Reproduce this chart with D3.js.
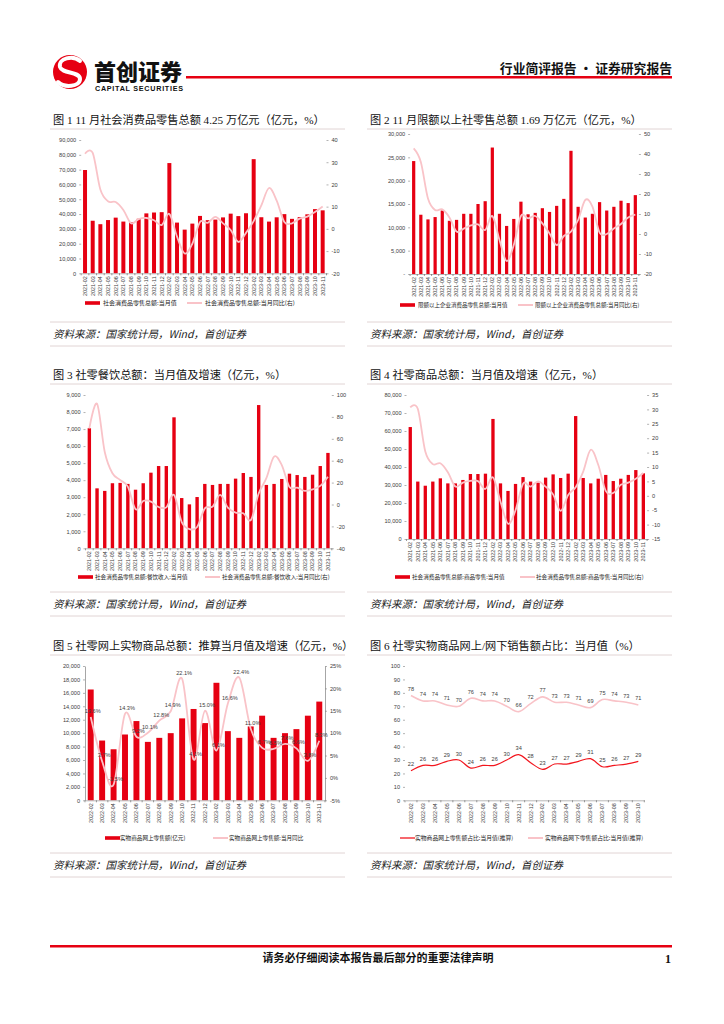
<!DOCTYPE html>
<html><head><meta charset="utf-8">
<script src="https://cdn.jsdelivr.net/npm/d3@7/dist/d3.min.js"></script>
<style>body{margin:0;background:#fff}svg{display:block}</style>
</head><body>
<svg id="page" width="724" height="1024"></svg>
<script>
// ---------------- DATA ----------------
const months32 = ["2021-02","2021-03","2021-04","2021-05","2021-06","2021-07","2021-08","2021-09","2021-10","2021-11","2021-12",
 "2022-02","2022-03","2022-04","2022-05","2022-06","2022-07","2022-08","2022-09","2022-10","2022-11","2022-12",
 "2023-02","2023-03","2023-04","2023-05","2023-06","2023-07","2023-08","2023-09","2023-10","2023-11"];
const months21 = ["2022-02","2022-03","2022-04","2022-05","2022-06","2022-07","2022-08","2022-09","2022-10","2022-11","2022-12",
 "2023-02","2023-03","2023-04","2023-05","2023-06","2023-07","2023-08","2023-09","2023-10","2023-11"];
const months20 = ["2022-02","2022-03","2022-04","2022-05","2022-06","2022-07","2022-08","2022-09","2022-10","2022-11","2022-12",
 "2023-02","2023-03","2023-04","2023-05","2023-06","2023-07","2023-08","2023-09","2023-10"];

// Fig 1: total retail sales (100m yuan) and yoy %
const retailTotal = [69737,35484,33153,35945,37586,34925,34395,36833,40454,41043,41269,
 74426,34233,29483,33547,38742,35870,36258,37745,40271,38615,40542,
 77067,37855,34910,37803,39951,36761,37933,39826,43333,42505];
const retailTotalYoY = [33.8,34.2,17.7,12.4,12.1,8.5,2.5,4.4,4.9,3.9,1.7,
 6.7,-3.5,-11.1,-6.7,3.1,2.7,5.4,2.5,-0.5,-5.9,-1.8,
 3.5,10.6,18.4,12.7,3.1,2.5,4.6,5.5,7.6,10.1];

// Fig 2: above designated size
const retailAbove = [24200,12700,11700,12200,13600,11400,11600,12900,12900,15000,15600,
 27100,12900,10300,11800,15500,12800,13100,14100,13300,14600,16100,
 26400,14400,12100,12900,15400,13600,14400,15700,15200,16900];
const retailAboveYoY = [42.8,36.0,17.8,12.0,12.3,8.3,1.2,2.7,4.3,4.8,2.0,
 9.0,-3.0,-13.5,-5.5,9.0,7.8,9.0,5.3,0.3,-5.5,-1.0,
 1.2,7.0,17.0,13.7,0.7,0.0,2.8,5.0,8.3,9.7];

// Fig 3: catering
const catering = [7050,3520,3370,3820,3840,3780,3440,3820,4440,4830,4830,
 7690,2950,2580,3010,3780,3720,3780,3780,4090,4420,4190,
 8410,3720,3780,4070,4380,4300,4190,4320,4830,5600];
const cateringYoY = [69.6,92.0,48.0,28.5,22.4,16.3,-4.3,3.2,2.6,-2.3,-2.6,
 8.7,-16.0,-22.4,-20.5,-3.5,-2.0,8.7,-2.9,-7.5,-8.0,-14.0,
 10.0,24.0,43.7,36.0,16.0,15.4,12.4,13.8,17.0,25.4];

// Fig 4: goods retail
const goods = [62200,31900,29600,31900,33700,30900,30900,32800,36100,36100,36300,
 66700,30900,26700,30600,34400,31900,31300,34100,35900,33900,36300,
 68300,33900,30900,33500,35600,32200,33500,35600,38300,36500];
const goodsYoY = [30.7,30.2,15.4,11.0,11.3,8.2,3.2,4.6,5.2,5.1,2.4,
 6.4,-2.0,-9.7,-5.0,4.2,3.2,5.0,3.2,0.5,-5.2,0.3,
 3.0,8.4,16.0,10.8,1.7,1.0,3.8,4.6,5.9,7.9];

// Fig 5: online physical goods (estimated monthly)
const online = [16500,8900,7600,9800,11800,8700,9300,10000,12200,13600,11500,
 17500,10300,9300,11000,12600,9300,10000,10600,12600,14700];
const onlineYoY = [13.6,3.7,-1.5,14.3,9.2,10.1,12.8,14.9,22.1,4.1,15.0,
 6.1,16.6,22.4,11.0,6.7,6.5,7.6,6.6,3.8,8.3];

// Fig 6: online / offline share
const shareOnline = [22,26,26,29,30,24,26,26,30,34,28,23,27,27,29,31,25,26,27,29];
const shareOffline = [78,74,74,71,70,76,74,74,70,66,72,77,73,73,71,69,75,74,73,71];

// tick values
const ticks1L = [0,10000,20000,30000,40000,50000,60000,70000,80000,90000];
const ticks1R = [-20,-10,0,10,20,30,40];
const ticks2L = [0,5000,10000,15000,20000,25000,30000];
const ticks2R = [-20,-10,0,10,20,30,40,50];
const ticks3L = [0,1000,2000,3000,4000,5000,6000,7000,8000,9000];
const ticks3R = [-40,-20,0,20,40,60,80,100];
const ticks4L = [0,10000,20000,30000,40000,50000,60000,70000,80000];
const ticks4R = [-15,-10,-5,0,5,10,15,20,25,30,35];
const ticks5L = [0,2000,4000,6000,8000,10000,12000,14000,16000,18000,20000];
const ticks5R = [-5,0,5,10,15,20,25];
const ticks6L = [0,10,20,30,40,50,60,70,80,90,100];

// ---------------- DRAW ----------------
const RED = "#e60012", PINK = "#f9c3c8", LINE_RED = "#f2161e";
const FA = "'Liberation Sans',Arial,'Noto Sans CJK SC',sans-serif";
const FT = "'Liberation Serif','Noto Sans CJK SC',serif";
const FC = "'Noto Sans CJK SC',sans-serif";
const svg = d3.select("#page");
const comma = d3.format(",");

// header
const hdr = svg.append("g");
hdr.append("circle").attr("cx",70).attr("cy",72).attr("r",17).attr("fill",RED);
hdr.append("path").attr("d","M80,61 C73,55 58,58 60,67 C62,74 80,71 80,79 C80,87 64,88 58,82")
  .attr("fill","none").attr("stroke","#fff").attr("stroke-width",4).attr("stroke-linecap","round");
hdr.append("text").attr("x",94).attr("y",80).attr("font-family",FC).attr("font-weight",900)
  .attr("font-size",22).attr("fill","#111").text("首创证券");
hdr.append("text").attr("x",95).attr("y",91).attr("font-family",FA).attr("font-weight",700)
  .attr("font-size",7.2).attr("fill","#111").attr("textLength",88).text("CAPITAL SECURITIES");
hdr.append("rect").attr("x",186).attr("y",76).attr("width",486).attr("height",2.5).attr("fill",RED);
hdr.append("text").attr("x",672).attr("y",73).attr("text-anchor","end").attr("font-family",FC)
  .attr("font-weight",700).attr("font-size",12.8).attr("fill","#111").text("行业简评报告 · 证券研究报告");

// footer
svg.append("rect").attr("x",50).attr("y",945).attr("width",622).attr("height",2.5).attr("fill",RED);
svg.append("text").attr("x",378).attr("y",962).attr("text-anchor","middle").attr("font-family",FC)
  .attr("font-weight",700).attr("font-size",11).attr("fill","#111").text("请务必仔细阅读本报告最后部分的重要法律声明");
svg.append("text").attr("x",671).attr("y",963).attr("text-anchor","end").attr("font-family",FT)
  .attr("font-weight",700).attr("font-size",12).attr("fill","#111").text("1");

// titles & sources
const titles = [
 {x:53,y:124,t:"图 1 11 月社会消费品零售总额 4.25 万亿元（亿元，%）"},
 {x:370,y:124,t:"图 2 11 月限额以上社零售总额 1.69 万亿元（亿元，%）"},
 {x:53,y:379,t:"图 3 社零餐饮总额：当月值及增速（亿元，%）"},
 {x:370,y:379,t:"图 4 社零商品总额：当月值及增速（亿元，%）"},
 {x:53,y:650,t:"图 5 社零网上实物商品总额：推算当月值及增速（亿元，%）"},
 {x:370,y:650,t:"图 6 社零实物商品网上/网下销售额占比：当月值（%）"}];
titles.forEach(d=>{
  svg.append("text").attr("x",d.x).attr("y",d.y).attr("font-family",FT).attr("font-size",11.2)
    .attr("fill","#111").text(d.t);
});
[[129,322,338,346],[384,592,608,616],[655,853,869,877]].forEach(r=>{
  [[50,345,53],[367,672,370]].forEach(c=>{
    [r[0],r[1],r[3]].forEach(yy=>{
      svg.append("line").attr("x1",c[0]).attr("x2",c[1]).attr("y1",yy).attr("y2",yy).attr("stroke","#d9c9c9").attr("stroke-width",0.8);
    });
    svg.append("text").attr("x",c[2]).attr("y",r[2]).attr("font-family",FC).attr("font-style","italic")
      .attr("font-size",10.5).attr("fill","#222").text("资料来源：国家统计局，Wind，首创证券");
  });
});

function styleAxis(a, showDomain){
  a.select(".domain").attr("stroke", showDomain ? "#a6a6a6" : "none");
  a.selectAll(".tick line").attr("stroke","#7f7f7f").attr("stroke-width",0.6);
  a.selectAll("text").attr("font-family",FA).attr("font-size",5.6).attr("fill","#404040");
}

function chart(c){
  const g = svg.append("g");
  const x = d3.scaleBand().domain(c.labels).range([c.x0,c.x1]).paddingInner(c.pad).paddingOuter(c.pad/2);
  const cx = d => x(d) + x.bandwidth()/2;
  const yL = d3.scaleLinear().domain(c.lDom).range([c.yBot,c.yTop]);
  const yR = c.rDom ? d3.scaleLinear().domain(c.rDom).range([c.yBot,c.yTop]) : yL;

  const aL = g.append("g").attr("transform",`translate(${c.x0},0)`)
    .call(d3.axisLeft(yL).tickValues(c.lTicks).tickFormat(c.lFmt).tickSizeOuter(0).tickSizeInner(2).tickPadding(3));
  styleAxis(aL, c.axisLines);
  if (c.rDom){
    const aR = g.append("g").attr("transform",`translate(${c.x1},0)`)
      .call(d3.axisRight(yR).tickValues(c.rTicks).tickFormat(c.rFmt).tickSizeOuter(0).tickSizeInner(2).tickPadding(3));
    styleAxis(aR, c.axisLines);
  }

  if (c.bars){
    g.append("g").selectAll("rect").data(c.bars).join("rect")
      .attr("x",(d,i)=>x(c.labels[i])).attr("width",x.bandwidth())
      .attr("y",d=>yL(d)).attr("height",d=>yL(0)-yL(d)).attr("fill",RED);
  }

  // x axis
  const ax = g.append("g").attr("transform",`translate(0,${c.yBot})`)
    .call(d3.axisBottom(x).tickSize(0).tickSizeOuter(0));
  ax.select(".domain").attr("stroke","#a6a6a6").attr("stroke-width",0.8);
  ax.selectAll("text").attr("font-family",FA).attr("font-size",5.4).attr("fill","#404040")
    .attr("transform","rotate(-90)").attr("x",-3).attr("y",0).attr("dy","0.35em").attr("text-anchor","end");
  const step = x.step();
  g.append("g").selectAll("line").data(d3.range(c.labels.length+1)).join("line")
    .attr("x1",i=>c.x0+i*step).attr("x2",i=>c.x0+i*step)
    .attr("y1",c.yBot).attr("y2",c.yBot+2).attr("stroke","#595959").attr("stroke-width",0.6);

  (c.lines||[]).forEach(L=>{
    const ys = L.right ? yR : yL;
    const line = d3.line().x((d,i)=>cx(c.labels[i])).y(d=>ys(d)).curve(d3.curveCardinal.tension(0));
    g.append("path").datum(L.values).attr("d",line).attr("fill","none")
      .attr("stroke",L.color).attr("stroke-width",L.width);
    if (L.labels){
      g.append("g").selectAll("text").data(L.values).join("text")
        .attr("x",(d,i)=>cx(c.labels[i])+L.ldx).attr("y",d=>ys(d)+L.ldy)
        .attr("text-anchor","middle").attr("font-family",FA).attr("font-size",5.6).attr("fill","#404040")
        .text(L.labels);
    }
  });

  // legend
  c.legend.forEach(l=>{
    if (l.type==="bar") g.append("rect").attr("x",l.x).attr("y",c.legY-1.8).attr("width",15).attr("height",3.6).attr("fill",l.color);
    else g.append("line").attr("x1",l.x).attr("x2",l.x+15).attr("y1",c.legY).attr("y2",c.legY).attr("stroke",l.color).attr("stroke-width",l.w||2);
    g.append("text").attr("x",l.tx).attr("y",c.legY).attr("dy","0.35em").attr("font-family",FC)
      .attr("font-size",c.legFs||5.8).attr("fill","#222").text(l.text);
  });
}

const fmtC = d => comma(d);
const fmtI = d => String(d);

chart({labels:months32, bars:retailTotal, x0:81.2, x1:326.5, yTop:140, yBot:273.3, pad:0.48,
  lDom:[0,90000], lTicks:ticks1L, lFmt:fmtC, rDom:[-20,40], rTicks:ticks1R, rFmt:fmtI,
  lines:[{values:retailTotalYoY, right:true, color:PINK, width:1.8}],
  legY:303, legFs:6, legend:[{type:"bar",x:85,tx:103,color:RED,text:"社会消费品零售总额:当月值"},
    {type:"line",x:187,tx:205,color:PINK,text:"社会消费品零售总额:当月同比(右)"}]});

chart({labels:months32, bars:retailAbove, x0:410.1, x1:638.9, yTop:134, yBot:274, pad:0.55,
  lDom:[0,30000], lTicks:ticks2L, lFmt:d=>d===0?"-":comma(d), rDom:[-20,50], rTicks:ticks2R, rFmt:fmtI,
  lines:[{values:retailAboveYoY, right:true, color:PINK, width:1.8}],
  legY:305, legFs:5.5, legend:[{type:"bar",x:400,tx:418,color:RED,text:"限额以上企业消费品零售总额:当月值"},
    {type:"line",x:518,tx:535,color:PINK,text:"限额以上企业消费品零售总额:当月同比(右)"}]});

chart({labels:months32, bars:catering, x0:85.5, x1:331.8, yTop:395, yBot:548.3, pad:0.56,
  lDom:[0,9000], lTicks:ticks3L, lFmt:fmtC, rDom:[-40,100], rTicks:ticks3R, rFmt:fmtI,
  lines:[{values:cateringYoY, right:true, color:PINK, width:1.8}],
  legY:577, legFs:5.6, legend:[{type:"bar",x:78,tx:95,color:RED,text:"社会消费品零售总额:餐饮收入:当月值"},
    {type:"line",x:205,tx:222,color:PINK,text:"社会消费品零售总额:餐饮收入:当月同比(右)"}]});

chart({labels:months32, bars:goods, x0:406.5, x1:647.1, yTop:395, yBot:539, pad:0.56,
  lDom:[0,80000], lTicks:ticks4L, lFmt:fmtC, rDom:[-15,35], rTicks:ticks4R, rFmt:fmtI,
  lines:[{values:goodsYoY, right:true, color:PINK, width:1.8}],
  legY:577, legFs:5.6, legend:[{type:"bar",x:395,tx:412,color:RED,text:"社会消费品零售总额:商品零售:当月值"},
    {type:"line",x:520,tx:536,color:PINK,text:"社会消费品零售总额:商品零售:当月同比(右)"}]});

chart({labels:months21, bars:online, x0:85, x1:325, yTop:666, yBot:800.3, pad:0.48, axisLines:true,
  lDom:[0,20000], lTicks:ticks5L, lFmt:fmtC, rDom:[-5,25], rTicks:ticks5R, rFmt:d=>d+"%",
  lines:[{values:onlineYoY, right:true, color:PINK, width:1.8, labels:d=>d.toFixed(1)+"%", ldx:2, ldy:-4}],
  legY:838, legFs:5.6, legend:[{type:"bar",x:105,tx:120,color:RED,text:"实物商品网上零售额(亿元)"},
    {type:"line",x:213,tx:229,color:PINK,text:"实物商品网上零售额:当月同比"}]});

chart({labels:months20, x0:405, x1:644.3, yTop:666, yBot:800.3, pad:0.5,
  lDom:[0,100], lTicks:ticks6L, lFmt:fmtI,
  lines:[{values:shareOffline, color:PINK, width:1.6, labels:d=>String(d), ldx:0, ldy:-4.5},
         {values:shareOnline, color:LINE_RED, width:1.2, labels:d=>String(d), ldx:0, ldy:-4.5}],
  legY:838, legFs:5.8, legend:[{type:"line",x:400,tx:415,color:LINE_RED,w:1.3,text:"实物商品网上零售额占比:当月值(推算)"},
    {type:"line",x:528,tx:545,color:PINK,text:"实物商品网下零售额占比:当月值(推算)"}]});
</script>
</body></html>
